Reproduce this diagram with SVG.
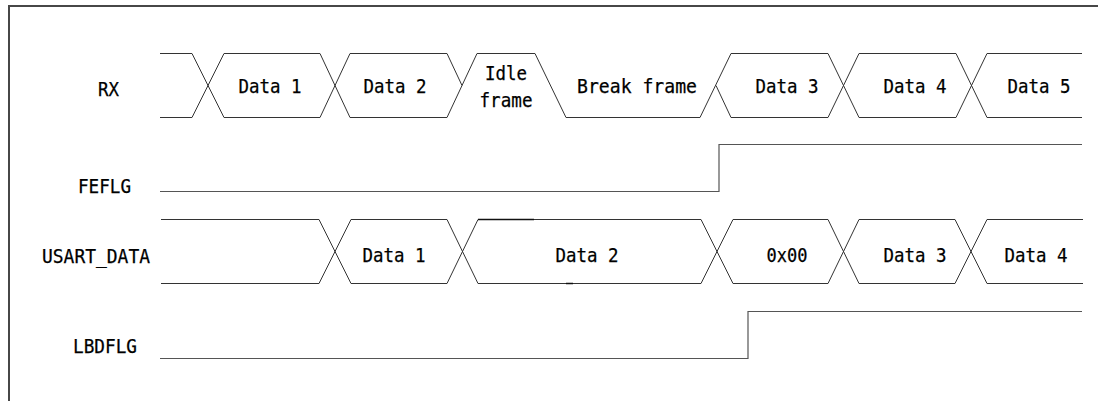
<svg xmlns="http://www.w3.org/2000/svg" width="1098" height="401" viewBox="0 0 1098 401">
<style>
.bg{fill:#ffffff}
.frame{fill:none;stroke:#474747;stroke-width:2}
.wave{fill:none;stroke:#333333;stroke-width:1}
.flag{fill:none;stroke:#555555;stroke-width:1.2}
.dark{fill:none;stroke:#111111;stroke-width:1.6}
.lbl{font-family:"DejaVu Sans Mono","Liberation Mono",monospace;font-size:19px;fill:#000000;stroke:#000000;stroke-width:0.25}
.dt{font-family:"DejaVu Sans Mono","Liberation Mono",monospace;font-size:19px;fill:#000000;stroke:#000000;stroke-width:0.25;text-anchor:middle}
</style>
<rect class="bg" x="0" y="0" width="1098" height="401"/>
<path class="frame" d="M9,401 V6 H1098"/>
<g id="labels">
<text class="lbl" x="98" y="96" textLength="21" lengthAdjust="spacingAndGlyphs">RX</text>
<text class="lbl" x="78" y="192.5" textLength="53" lengthAdjust="spacingAndGlyphs">FEFLG</text>
<text class="lbl" x="42" y="262.5" textLength="108" lengthAdjust="spacingAndGlyphs">USART_DATA</text>
<text class="lbl" x="73" y="352.5" textLength="64" lengthAdjust="spacingAndGlyphs">LBDFLG</text>
</g>
<g id="connectors">
<g id="rx-wave">
<path class="wave" d="M160,53.5 H192 L224,117.5 H320 L350,53.5 H447 L462,85.5 L477,53.5 H535 L566,117.5 H700 L731,53.5 H828 L859,117.5 H956 L987,53.5 H1082"/>
<path class="wave" d="M160,117.5 H192 L224,53.5 H320 L350,117.5 H447 L462,85.5"/>
<path class="wave" d="M716,85.5 L731,117.5 H828 L859,53.5 H956 L987,117.5 H1082"/>
</g>
<g id="fefl-wave">
<path class="flag" d="M160,191.5 H719 V144.5 H1082"/>
</g>
<g id="usart-wave">
<path class="wave" d="M161,219.5 H319 L351,283.5 H447 L478,219.5 H701 L733,283.5 H828 L859,219.5 H955 L987,283.5 H1083"/>
<path class="wave" d="M161,283.5 H319 L351,219.5 H447 L478,283.5 H701 L733,219.5 H828 L859,283.5 H955 L987,219.5 H1083"/>
<path class="dark" d="M478,219.5 H534 M566,283.5 H573"/>
</g>
<g id="lbdflg-wave">
<path class="flag" d="M160,358.5 H748 V311.5 H1082"/>
</g>
</g>
<g id="rx-cells">
<g id="rx-data1"><text class="dt" x="270" y="93" textLength="63" lengthAdjust="spacingAndGlyphs">Data 1</text></g>
<g id="rx-data2"><text class="dt" x="395" y="93" textLength="63" lengthAdjust="spacingAndGlyphs">Data 2</text></g>
<g id="rx-idle"><text class="dt" x="506" y="80" textLength="42" lengthAdjust="spacingAndGlyphs">Idle</text><text class="dt" x="506" y="106.5" textLength="53" lengthAdjust="spacingAndGlyphs">frame</text></g>
<g id="rx-break"><text class="dt" x="637" y="93" textLength="120" lengthAdjust="spacingAndGlyphs">Break frame</text></g>
<g id="rx-data3"><text class="dt" x="787" y="93" textLength="63" lengthAdjust="spacingAndGlyphs">Data 3</text></g>
<g id="rx-data4"><text class="dt" x="915" y="93" textLength="63" lengthAdjust="spacingAndGlyphs">Data 4</text></g>
<g id="rx-data5"><text class="dt" x="1039" y="93" textLength="63" lengthAdjust="spacingAndGlyphs">Data 5</text></g>
</g>
<g id="usart-cells">
<g id="us-data1"><text class="dt" x="394" y="261.5" textLength="63" lengthAdjust="spacingAndGlyphs">Data 1</text></g>
<g id="us-data2"><text class="dt" x="587" y="261.5" textLength="63" lengthAdjust="spacingAndGlyphs">Data 2</text></g>
<g id="us-0x00"><text class="dt" x="787" y="261.5" textLength="41" lengthAdjust="spacingAndGlyphs">0x00</text></g>
<g id="us-data3"><text class="dt" x="915" y="261.5" textLength="63" lengthAdjust="spacingAndGlyphs">Data 3</text></g>
<g id="us-data4"><text class="dt" x="1036" y="261.5" textLength="63" lengthAdjust="spacingAndGlyphs">Data 4</text></g>
</g>
</svg>
